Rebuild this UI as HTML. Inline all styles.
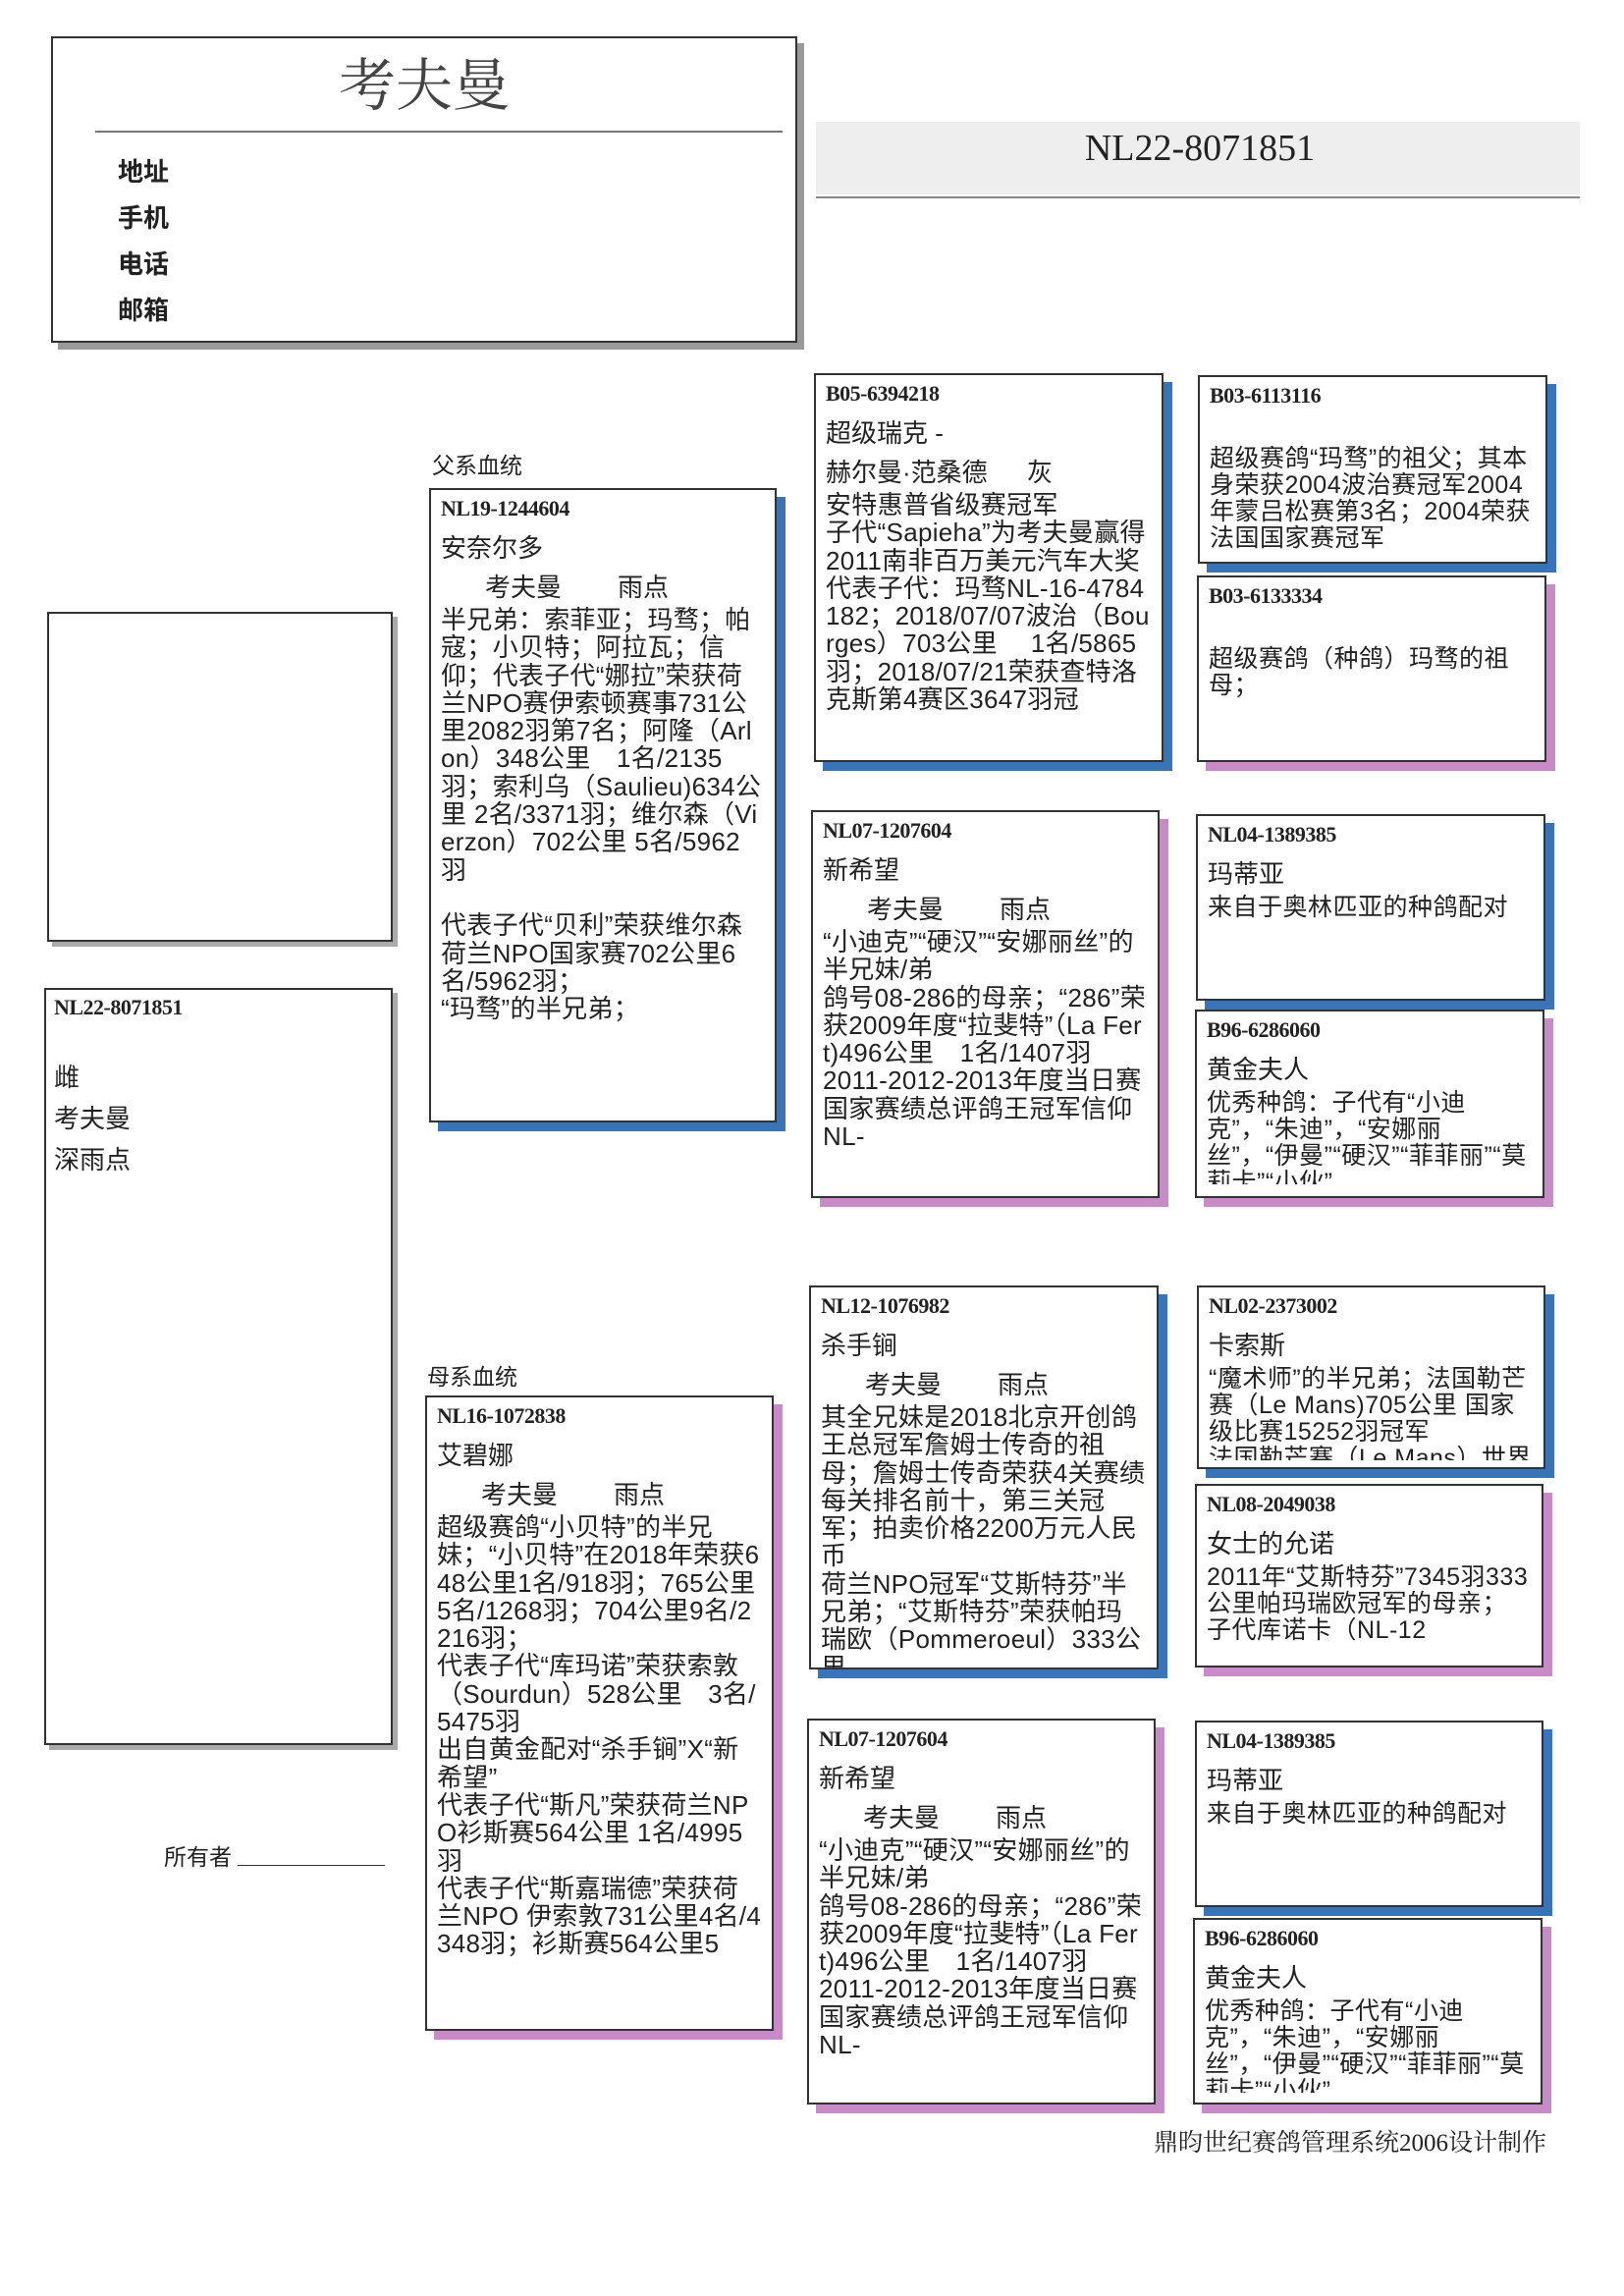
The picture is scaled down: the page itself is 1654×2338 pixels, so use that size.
<!DOCTYPE html>
<html><head><meta charset="utf-8">
<style>
html,body{margin:0;padding:0;background:#fff;}
body{width:1654px;height:2338px;position:relative;overflow:hidden;font-family:"Liberation Sans","Noto Sans CJK SC",sans-serif;color:#222;}
.a{position:absolute;}
.box{position:absolute;border:2px solid #333;background:#fff;box-sizing:border-box;overflow:hidden;padding:0 10px;}
.b{box-shadow:9px 9px 0 #3a74b8;}
.p{box-shadow:9px 9px 0 #c98ac8;}
.id{font-family:"Liberation Serif","Noto Serif CJK SC",serif;font-weight:bold;font-size:22px;height:38px;line-height:38px;letter-spacing:-0.5px;}
.nm{font-size:26px;height:42px;line-height:42px;}
.br{font-size:26px;height:38px;line-height:38px;padding-left:45px;}
.br span{display:inline-block;width:135px;}
.t{font-size:26px;line-height:28.3px;word-break:break-all;letter-spacing:0.3px;}
.s{font-size:25px;line-height:27px;word-break:break-all;letter-spacing:0.5px;}
</style></head><body>

<!-- header -->
<div class="a" style="left:52px;top:37px;width:760px;height:312px;border:2px solid #333;box-sizing:border-box;box-shadow:7px 7px 0 #999;background:#fff;"></div>
<div class="a" style="left:300px;top:40px;width:264px;text-align:center;font-size:58px;font-family:'Liberation Serif','Noto Serif CJK SC',serif;color:#444;">考夫曼</div>
<div class="a" style="left:97px;top:133px;width:700px;height:2px;background:#777;"></div>
<div class="a" style="left:120px;top:152px;font-size:26px;font-weight:bold;line-height:47px;">地址<br>手机<br>电话<br>邮箱</div>

<div class="a" style="left:831px;top:124px;width:778px;height:74px;background:#eee;"></div>
<div class="a" style="left:831px;top:200px;width:778px;height:2px;background:#888;"></div>
<div class="a" style="left:1000px;top:128px;width:444px;text-align:center;font-size:38px;font-family:'Liberation Serif',serif;line-height:46px;">NL22-8071851</div>

<!-- left boxes -->
<div class="a" style="left:48px;top:623px;width:352px;height:336px;border:2px solid #333;box-sizing:border-box;box-shadow:5px 5px 0 #aaa;"></div>
<div class="box" style="left:45px;top:1006px;width:355px;height:771px;box-shadow:5px 5px 0 #aaa;padding:0 8px;">
<div class="id" style="height:46px;line-height:36px;">NL22-8071851</div>
<div style="font-size:26px;line-height:42px;margin-top:22px;">雌<br>考夫曼<br>深雨点</div>
</div>

<div class="a" style="left:440px;top:455px;font-size:23px;">父系血统</div>
<div class="a" style="left:435px;top:1383px;font-size:23px;">母系血统</div>
<div class="a" style="left:167px;top:1872px;font-size:23px;">所有者</div>
<div class="a" style="left:242px;top:1899px;width:150px;height:1px;background:#333;"></div>
<div class="a" style="left:1175px;top:2162px;font-size:25px;font-family:'Liberation Serif','Noto Serif CJK SC',serif;">鼎昀世纪赛鸽管理系统2006设计制作</div>

<!-- father -->
<div class="box b" style="left:437px;top:497px;width:354px;height:646px;">
<div class="id">NL19-1244604</div>
<div class="nm">安奈尔多</div>
<div class="br"><span>考夫曼</span>雨点</div>
<div class="t">半兄弟：索菲亚；玛骛；帕寇；小贝特；阿拉瓦；信仰；代表子代“娜拉”荣获荷兰NPO赛伊索顿赛事731公里2082羽第7名；阿隆（Arlon）348公里　1名/2135羽；索利乌（Saulieu)634公里 2名/3371羽；维尔森（Vierzon）702公里 5名/5962羽<br><br>代表子代“贝利”荣获维尔森荷兰NPO国家赛702公里6名/5962羽；<br>“玛骛”的半兄弟；</div>
</div>

<!-- mother -->
<div class="box p" style="left:433px;top:1421px;width:355px;height:647px;">
<div class="id">NL16-1072838</div>
<div class="nm">艾碧娜</div>
<div class="br"><span>考夫曼</span>雨点</div>
<div class="t">超级赛鸽“小贝特”的半兄妹；“小贝特”在2018年荣获648公里1名/918羽；765公里5名/1268羽；704公里9名/2216羽；<br>代表子代“库玛诺”荣获索敦（Sourdun）528公里　3名/5475羽<br>出自黄金配对“杀手锏”X“新希望”<br>代表子代“斯凡”荣获荷兰NPO衫斯赛564公里 1名/4995羽<br>代表子代“斯嘉瑞德”荣获荷兰NPO 伊索敦731公里4名/4348羽；衫斯赛564公里5</div>
</div>

<!-- grandparents -->
<div class="box b" style="left:829px;top:380px;width:356px;height:396px;">
<div class="id">B05-6394218</div>
<div class="nm">超级瑞克 -</div>
<div class="br" style="padding-left:0"><span style="width:205px">赫尔曼·范桑德</span>灰</div>
<div class="t">安特惠普省级赛冠军<br>子代“Sapieha”为考夫曼赢得2011南非百万美元汽车大奖代表子代：玛骛NL-16-4784182；2018/07/07波治（Bourges）703公里　 1名/5865羽；2018/07/21荣获查特洛克斯第4赛区3647羽冠</div>
</div>

<div class="box p" style="left:826px;top:825px;width:355px;height:395px;">
<div class="id">NL07-1207604</div>
<div class="nm">新希望</div>
<div class="br"><span>考夫曼</span>雨点</div>
<div class="t">“小迪克”“硬汉”“安娜丽丝”的半兄妹/弟<br>鸽号08-286的母亲；“286”荣获2009年度“拉斐特”（La Fert)496公里　1名/1407羽<br>2011-2012-2013年度当日赛国家赛绩总评鸽王冠军信仰NL-</div>
</div>

<div class="box b" style="left:824px;top:1309px;width:356px;height:391px;">
<div class="id">NL12-1076982</div>
<div class="nm">杀手锏</div>
<div class="br"><span>考夫曼</span>雨点</div>
<div class="t">其全兄妹是2018北京开创鸽王总冠军詹姆士传奇的祖母；詹姆士传奇荣获4关赛绩每关排名前十，第三关冠军；拍卖价格2200万元人民币<br>荷兰NPO冠军“艾斯特芬”半兄弟；“艾斯特芬”荣获帕玛瑞欧（Pommeroeul）333公里</div>
</div>

<div class="box p" style="left:822px;top:1750px;width:355px;height:393px;">
<div class="id">NL07-1207604</div>
<div class="nm">新希望</div>
<div class="br"><span>考夫曼</span>雨点</div>
<div class="t">“小迪克”“硬汉”“安娜丽丝”的半兄妹/弟<br>鸽号08-286的母亲；“286”荣获2009年度“拉斐特”（La Fert)496公里　1名/1407羽<br>2011-2012-2013年度当日赛国家赛绩总评鸽王冠军信仰NL-</div>
</div>

<!-- great grandparents -->
<div class="box b" style="left:1220px;top:382px;width:356px;height:192px;">
<div class="id">B03-6113116</div>
<div class="s" style="margin-top:32px;height:108px;overflow:hidden;">超级赛鸽“玛骛”的祖父；其本身荣获2004波治赛冠军2004年蒙吕松赛第3名；2004荣获法国国家赛冠军</div>
</div>
<div class="box p" style="left:1219px;top:586px;width:356px;height:190px;">
<div class="id">B03-6133334</div>
<div class="s" style="margin-top:32px;">超级赛鸽（种鸽）玛骛的祖母；</div>
</div>
<div class="box b" style="left:1218px;top:829px;width:356px;height:190px;">
<div class="id">NL04-1389385</div>
<div class="nm">玛蒂亚</div>
<div class="s">来自于奥林匹亚的种鸽配对</div>
</div>
<div class="box p" style="left:1217px;top:1028px;width:356px;height:192px;">
<div class="id">B96-6286060</div>
<div class="nm">黄金夫人</div>
<div class="s" style="height:96px;overflow:hidden;">优秀种鸽：子代有“小迪克”，“朱迪”，“安娜丽丝”，“伊曼”“硬汉”“菲菲丽”“莫莉卡”“小伙”</div>
</div>

<div class="box b" style="left:1219px;top:1309px;width:355px;height:187px;">
<div class="id">NL02-2373002</div>
<div class="nm">卡索斯</div>
<div class="s" style="height:96px;overflow:hidden;">“魔术师”的半兄弟；法国勒芒赛（Le Mans)705公里 国家级比赛15252羽冠军<br>法国勒芒赛（Le Mans）世界冠</div>
</div>
<div class="box p" style="left:1217px;top:1511px;width:355px;height:187px;">
<div class="id">NL08-2049038</div>
<div class="nm">女士的允诺</div>
<div class="s" style="height:96px;overflow:hidden;">2011年“艾斯特芬”7345羽333公里帕玛瑞欧冠军的母亲；<br>子代库诺卡（NL-12</div>
</div>
<div class="box b" style="left:1217px;top:1752px;width:355px;height:190px;">
<div class="id">NL04-1389385</div>
<div class="nm">玛蒂亚</div>
<div class="s">来自于奥林匹亚的种鸽配对</div>
</div>
<div class="box p" style="left:1215px;top:1953px;width:356px;height:190px;">
<div class="id">B96-6286060</div>
<div class="nm">黄金夫人</div>
<div class="s" style="height:96px;overflow:hidden;">优秀种鸽：子代有“小迪克”，“朱迪”，“安娜丽丝”，“伊曼”“硬汉”“菲菲丽”“莫莉卡”“小伙”</div>
</div>

</body></html>
